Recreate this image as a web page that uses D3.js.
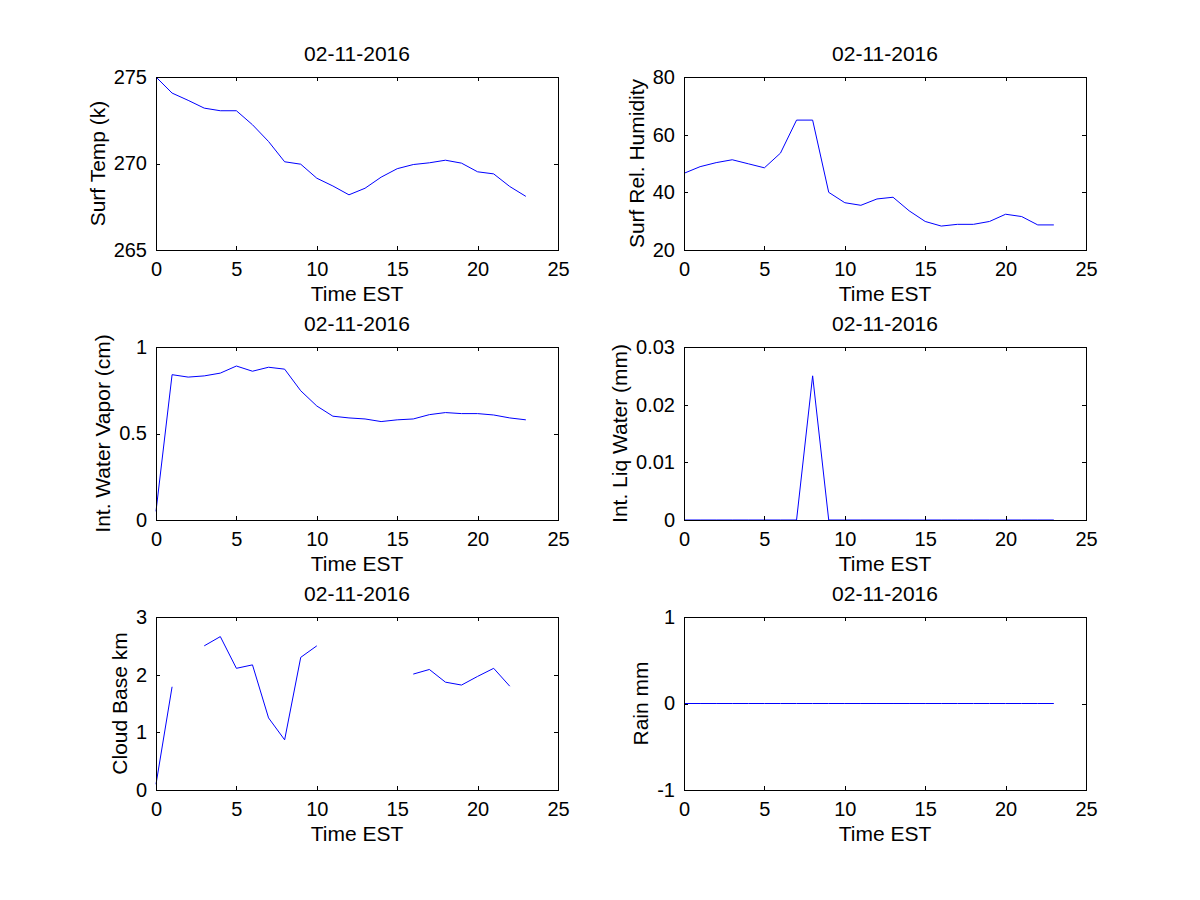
<!DOCTYPE html>
<html>
<head>
<meta charset="utf-8">
<script src="https://cdn.jsdelivr.net/npm/d3@7"></script>
<style>
  body { margin: 0; background: #fff; }
  svg { display: block; }
  text { font-family: "Liberation Sans", Arial, sans-serif; }
</style>
</head>
<body>
<svg id="chart" width="1200" height="900"></svg>
<script>
const hours = [0, 1, 2, 3, 4, 5, 6, 7, 8, 9, 10, 11, 12, 13, 14, 15, 16, 17, 18, 19, 20, 21, 22, 23];

const surfTemp = [275.0, 274.07, 273.65, 273.2, 273.05, 273.05, 272.24, 271.27, 270.1, 269.96, 269.15, 268.7,
                  268.19, 268.57, 269.21, 269.7, 269.94, 270.04, 270.19, 270.02, 269.52, 269.4, 268.67, 268.1];
const surfHumidity = [46.6, 48.9, 50.3, 51.3, 49.9, 48.5, 53.6, 65.05, 65.05, 40.0, 36.4, 35.5,
                      37.7, 38.3, 33.6, 29.9, 28.3, 28.9, 28.9, 29.9, 32.4, 31.6, 28.7, 28.7];
const waterVapor = [0.05, 0.84, 0.826, 0.833, 0.849, 0.89, 0.86, 0.883, 0.872, 0.747, 0.659, 0.60,
                    0.59, 0.584, 0.569, 0.579, 0.584, 0.609, 0.621, 0.615, 0.615, 0.607, 0.59, 0.579];
const liqWater = [0, 0, 0, 0, 0, 0, 0, 0, 0.025, 0, 0, 0,
                  0, 0, 0, 0, 0, 0, 0, 0, 0, 0, 0, 0];
const cloudBase = [0.1, 1.79, NaN, 2.5, 2.66, 2.11, 2.17, 1.25, 0.87, 2.3, 2.5, NaN,
                   NaN, NaN, NaN, NaN, 2.01, 2.09, 1.87, 1.82, 1.97, 2.11, 1.80, NaN];
const rain = [0, 0, 0, 0, 0, 0, 0, 0, 0, 0, 0, 0,
              0, 0, 0, 0, 0, 0, 0, 0, 0, 0, 0, 0];

const xTicks = [0, 5, 10, 15, 20, 25];
const titleText = "02-11-2016";
const xLabel = "Time EST";

const panels = [
    { col: 0, row: 0, values: surfTemp,     label: "Surf Temp (k)",          yDomain: [265, 275], yTicks: [265, 270, 275] },
    { col: 1, row: 0, values: surfHumidity, label: "Surf Rel. Humidity",     yDomain: [20, 80],   yTicks: [20, 40, 60, 80] },
    { col: 0, row: 1, values: waterVapor,   label: "Int. Water Vapor (cm)",  yDomain: [0, 1],     yTicks: [0, 0.5, 1] },
    { col: 1, row: 1, values: liqWater,     label: "Int. Liq Water (mm)",    yDomain: [0, 0.03],  yTicks: [0, 0.01, 0.02, 0.03] },
    { col: 0, row: 2, values: cloudBase,    label: "Cloud Base km",          yDomain: [0, 3],     yTicks: [0, 1, 2, 3] },
    { col: 1, row: 2, values: rain,         label: "Rain mm",                yDomain: [-1, 1],    yTicks: [-1, 0, 1] }
];

const colLeft = [156, 684];
const rowTop = [77, 347, 617];
const plotW = 402;
const plotH = 173;
const tickFont = 20;
const labelFont = 21;
const tickLen = 4;

const svg = d3.select("#chart");
svg.append("rect").attr("width", 1200).attr("height", 900).attr("fill", "#fff");

panels.forEach((p) => {
    const left = colLeft[p.col];
    const top = rowTop[p.row];

    const x = d3.scaleLinear().domain([0, 25]).range([0, plotW]);
    const y = d3.scaleLinear().domain(p.yDomain).range([plotH, 0]);

    const g = svg.append("g").attr("transform", `translate(${left},${top})`);

    const line = d3.line()
        .defined((d, i) => !isNaN(p.values[i]))
        .x((d) => x(d))
        .y((d, i) => y(p.values[i]));

    g.append("path")
        .datum(hours)
        .attr("d", line)
        .attr("fill", "none")
        .attr("stroke", "#0000ff")
        .attr("stroke-width", 1);

    const fmt = (d) => String(d);

    g.append("g")
        .attr("transform", `translate(0,${plotH})`)
        .call(d3.axisBottom(x).tickValues(xTicks).tickFormat(fmt).tickSizeInner(-tickLen).tickSizeOuter(0).tickPadding(12));
    g.append("g")
        .call(d3.axisTop(x).tickValues(xTicks).tickFormat("").tickSizeInner(-tickLen).tickSizeOuter(0));
    const leftAxis = g.append("g")
        .call(d3.axisLeft(y).tickValues(p.yTicks).tickFormat(fmt).tickSizeInner(-tickLen).tickSizeOuter(0).tickPadding(9));
    g.append("g")
        .attr("transform", `translate(${plotW},0)`)
        .call(d3.axisRight(y).tickValues(p.yTicks).tickFormat("").tickSizeInner(-tickLen).tickSizeOuter(0));

    g.selectAll(".domain").remove();
    g.selectAll(".tick line").attr("stroke", "#000").attr("shape-rendering", "crispEdges");
    g.selectAll(".tick text")
        .attr("fill", "#000")
        .style("font-size", tickFont + "px")
        .style("font-family", "'Liberation Sans', Arial, sans-serif");

    g.append("rect")
        .attr("x", 0).attr("y", 0)
        .attr("width", plotW).attr("height", plotH)
        .attr("fill", "none")
        .attr("stroke", "#000")
        .attr("stroke-width", 1)
        .attr("shape-rendering", "crispEdges");

    // title and axis labels
    g.append("text")
        .attr("x", plotW / 2).attr("y", -16)
        .attr("text-anchor", "middle")
        .style("font-size", labelFont + "px")
        .text(titleText);

    g.append("text")
        .attr("x", plotW / 2).attr("y", plotH + 51)
        .attr("text-anchor", "middle")
        .style("font-size", labelFont + "px")
        .text(xLabel);

    let minX = 0;
    leftAxis.selectAll(".tick text").each(function() {
        minX = Math.min(minX, this.getBBox().x);
    });

    g.append("text")
        .attr("transform", `translate(${minX - 9},${plotH / 2}) rotate(-90)`)
        .attr("text-anchor", "middle")
        .style("font-size", labelFont + "px")
        .text(p.label);
});
</script>
</body>
</html>
